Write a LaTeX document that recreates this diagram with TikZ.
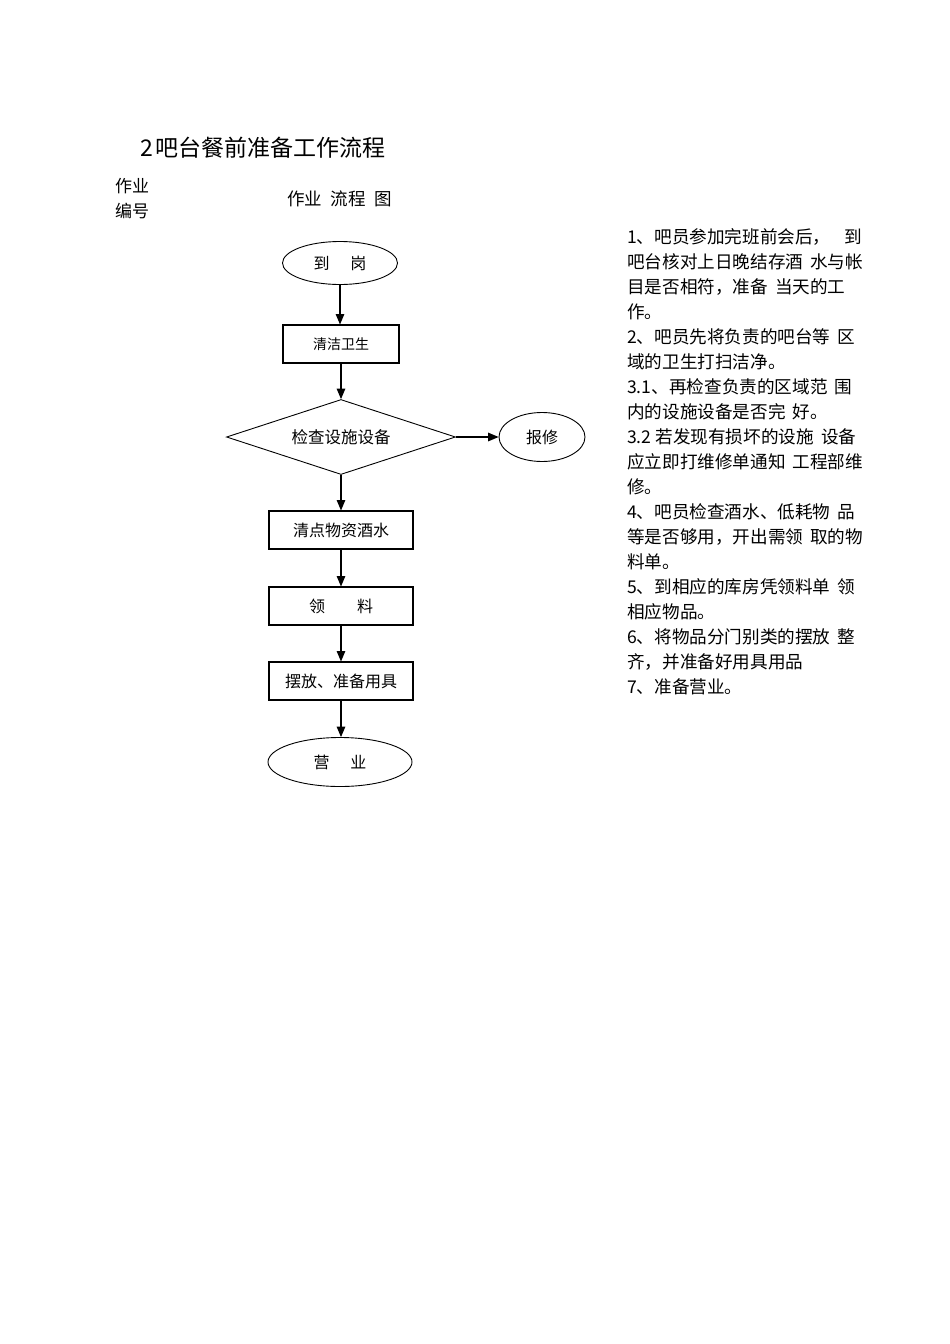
\documentclass[tikz,border=0pt]{standalone}
\usepackage{fontspec}
\setmainfont{Noto Sans CJK SC}
\usetikzlibrary{shapes,arrows,positioning,calc}

\begin{document}
\begin{tikzpicture}[
    x=1pt, y=-1pt,
    block/.style={rectangle, draw, line width=1.1pt, minimum height=38pt, align=center, font=\fontsize{16}{18}\selectfont, inner sep=2pt},
    terminal/.style={ellipse, draw, line width=0.9pt, align=center, font=\fontsize{16}{18}\selectfont, inner sep=0pt},
    decision/.style={diamond, aspect=3, draw, line width=0.9pt, minimum width=229pt, minimum height=75pt, align=center, font=\fontsize{16.5}{18}\selectfont, inner sep=0pt},
    arrow/.style={->, >=triangle 45, line width=1.4pt}
]

% ─ Page ──
\useasboundingbox[fill=white] (0,0) rectangle (950,1344);

% ── Headings ──
\node[anchor=west, font=\fontsize{23}{26}\selectfont, inner sep=0pt] (title) at (140,148) {2\hspace{0.1em}吧台餐前准备工作流程};
\node[anchor=north west, align=left, font=\fontsize{17}{25}\selectfont, inner sep=0pt] (jobno) at (115,178) {作业\\编号};
\node[anchor=west, font=\fontsize{17.5}{20}\selectfont, inner sep=0pt] (charthead) at (287,199) {作业\hspace{0.5em}流程\hspace{0.5em}图};

% ── Flow chart ──
\node[terminal, minimum width=115pt, minimum height=43pt] (arrive) at (340,263) {到\hspace{1.3em}岗};
\node[block, minimum width=116pt, font=\fontsize{14}{16}\selectfont] (clean) at (341,344) {清洁卫生};
\node[decision] (check) at (341,437) {检查设施设备};
\node[terminal, minimum width=86pt, minimum height=49pt] (repair) at (542,437) {报修};
\node[block, minimum width=144pt] (count) at (341,530) {清点物资酒水};
\node[block, minimum width=144pt] (fetch) at (341,606) {领\hspace{2em}料};
\node[block, minimum width=144pt] (arrange) at (341,681) {摆放、准备用具};
\node[terminal, minimum width=144pt, minimum height=49pt] (open) at (340,762) {营\hspace{1.3em}业};

% ── Arrows ──
\draw[arrow] (arrive.south) -- (arrive.south |- clean.north);
\draw[arrow] (clean.south) -- (check.north);
\draw[arrow] (check.east) -- (repair.west);
\draw[arrow] (check.south) -- (count.north);
\draw[arrow] (count.south) -- (fetch.north);
\draw[arrow] (fetch.south) -- (arrange.north);
\draw[arrow] (arrange.south) -- (arrange.south |- open.north);

% ── Notes ──
\node[anchor=north west, align=left, font=\fontsize{17.6}{25}\selectfont, inner sep=0pt] (notes) at (627,228) {%
1、吧员参加完班前会后，\hspace{0.8em}到\\
吧台核对上日晚结存酒\hspace{0.4em}水与帐\\
目是否相符，准备\hspace{0.4em}当天的工\\
作。\\
2、吧员先将负责的吧台等\hspace{0.4em}区\\
域的卫生打扫洁净。\\
3.1、再检查负责的区域范\hspace{0.4em}围\\
内的设施设备是否完\hspace{0.4em}好。\\
3.2 若发现有损坏的设施\hspace{0.4em}设备\\
应立即打维修单通知\hspace{0.4em}工程部维\\
修。\\
4、吧员检查酒水、低耗物\hspace{0.4em}品\\
等是否够用，开出需领\hspace{0.4em}取的物\\
料单。\\
5、到相应的库房凭领料单\hspace{0.4em}领\\
相应物品。\\
6、将物品分门别类的摆放\hspace{0.4em}整\\
齐，并准备好用具用品\\
7、准备营业。};

\end{tikzpicture}
\end{document}
